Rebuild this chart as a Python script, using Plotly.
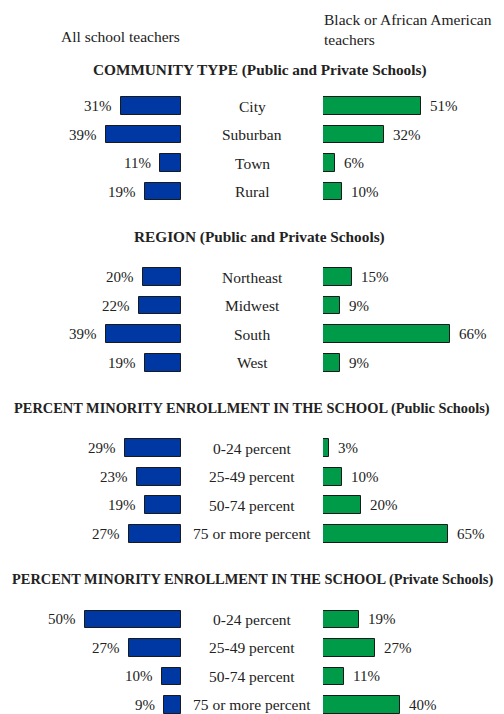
import plotly.graph_objects as go

# ---- data ----
sections = [
    "COMMUNITY TYPE (Public and Private Schools)",
    "REGION (Public and Private Schools)",
    "PERCENT MINORITY ENROLLMENT IN THE SCHOOL (Public Schools)",
    "PERCENT MINORITY ENROLLMENT IN THE SCHOOL (Private Schools)",
]
community_labels = ["City", "Suburban", "Town", "Rural"]
community_all = [31, 39, 11, 19]
community_black = [51, 32, 6, 10]

region_labels = ["Northeast", "Midwest", "South", "West"]
region_all = [20, 22, 39, 19]
region_black = [15, 9, 66, 9]

public_labels = ["0-24 percent", "25-49 percent", "50-74 percent", "75 or more percent"]
public_all = [29, 23, 19, 27]
public_black = [3, 10, 20, 65]

private_labels = ["0-24 percent", "25-49 percent", "50-74 percent", "75 or more percent"]
private_all = [50, 27, 10, 9]
private_black = [19, 27, 11, 40]

header_left = "All school teachers"
header_right = "Black or African American<br>teachers"

# ---- build ----
BLUE = "#0038A3"
GREEN = "#009B48"
FONT = "Liberation Serif"

groups = [
    (community_labels, community_all, community_black),
    (region_labels, region_all, region_black),
    (public_labels, public_all, public_black),
    (private_labels, private_all, private_black),
]

ys, cats, va, vb = [], [], [], []
title_ys = []
for gi, (labs, a, b) in enumerate(groups):
    base = gi * 6
    title_ys.append(base - (1.26 if gi == 0 else 1.4))
    for i, (l, x1, x2) in enumerate(zip(labs, a, b)):
        ys.append(base + i)
        cats.append(l)
        va.append(x1)
        vb.append(x2)

fig = go.Figure()
fig.add_trace(go.Bar(x=va, y=ys, orientation="h", xaxis="x", yaxis="y",
                     marker=dict(color=BLUE, line=dict(color="#1a1a1a", width=1)),
                     width=0.62, hoverinfo="skip", showlegend=False))
fig.add_trace(go.Bar(x=vb, y=ys, orientation="h", xaxis="x2", yaxis="y",
                     marker=dict(color=GREEN, line=dict(color="#1a1a1a", width=1)),
                     width=0.62, hoverinfo="skip", showlegend=False))

ann = []
for y, c, a, b in zip(ys, cats, va, vb):
    ann.append(dict(x=0.5, xref="paper", y=y, yref="y", text=c, showarrow=False,
                    xanchor="center", yanchor="middle", font=dict(size=15.5)))
    ann.append(dict(x=a, xref="x", y=y, yref="y", text=f"{a}%", showarrow=False,
                    xanchor="right", yanchor="middle", xshift=-7, font=dict(size=15)))
    ann.append(dict(x=b, xref="x2", y=y, yref="y", text=f"{b}%", showarrow=False,
                    xanchor="left", yanchor="middle", xshift=7, font=dict(size=15)))
for gi, (t, y) in enumerate(zip(sections, title_ys)):
    ann.append(dict(x=0.5 if gi >= 2 else 0.515, xref="paper", y=y, yref="y",
                    text=f"<b>{t}</b>", showarrow=False,
                    xanchor="center", yanchor="middle",
                    font=dict(size=15.3 if gi < 2 else 14.4)))
ann.append(dict(x=120 / 504, xref="paper", y=1 - 36 / 714, yref="paper", text=header_left,
                showarrow=False, xanchor="center", yanchor="middle", font=dict(size=15.5)))
ann.append(dict(x=322 / 504, xref="paper", y=1 - 30 / 714, yref="paper", text=header_right,
                showarrow=False, xanchor="left", yanchor="middle", align="left", font=dict(size=15.5)))

px_per_unit = 1.92
row0, rowstep = 106, 28.52
fig.update_layout(
    width=504, height=714,
    margin=dict(l=0, r=0, t=0, b=0),
    paper_bgcolor="white", plot_bgcolor="white",
    font=dict(family=FONT, color="#222222"),
    bargap=0,
    xaxis=dict(domain=[0, 181 / 504], range=[181 / px_per_unit, 0], visible=False, fixedrange=True),
    xaxis2=dict(domain=[323 / 504, 1], range=[0, 181 / px_per_unit], visible=False, fixedrange=True),
    yaxis=dict(range=[(714 - row0) / rowstep, -row0 / rowstep], visible=False, fixedrange=True),
    annotations=ann,
)

fig.write_html("out.html", config={"displayModeBar": False},
               post_script="document.body.style.margin='0px';")
